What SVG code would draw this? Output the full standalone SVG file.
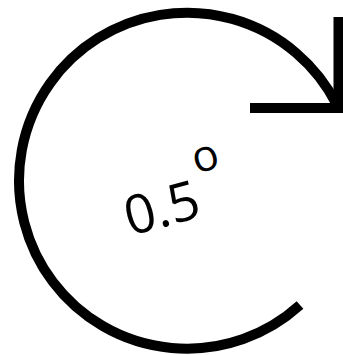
<svg xmlns="http://www.w3.org/2000/svg" width="343" height="355" viewBox="0 0 343 355">
<style>
.s{fill:none;stroke:#000;stroke-width:10}
.t{font-family:"Open Sans","Noto Sans",sans-serif;fill:#000}
</style>
<rect width="343" height="355" fill="#fff"/>
<g id="connectors">
<path class="s" d="M300,305 A168,168 0 1 1 337,105"/>
<path class="s" d="M250,108 H343 M338.5,17 V113"/>
</g>
<g id="label">
<text class="t" transform="translate(130,236) rotate(-15)" font-size="54">0.5<tspan dx="4" dy="-43" font-size="44">o</tspan></text>
</g>
</svg>
